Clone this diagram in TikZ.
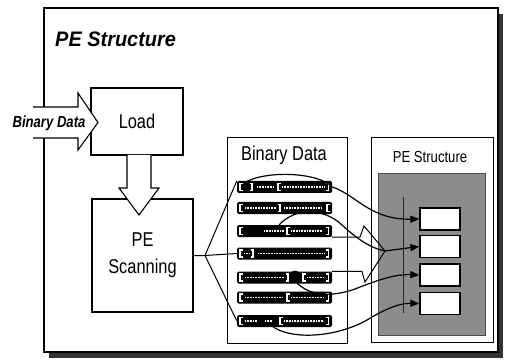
\documentclass[tikz,border=0pt]{standalone}
\usepackage{fontspec}
\setmainfont{Liberation Sans}
\newfontfamily\narrowfont[FakeStretch=0.82]{Liberation Sans}
\newfontfamily\titlefamily[FakeStretch=0.95]{Liberation Sans}
\usetikzlibrary{arrows.meta}
\newcommand{\bdL}[2]{\draw[white,line width=1.3pt] (#1+2.5,#2-3.5) -- (#1,#2-3.5) -- (#1,#2+3.5) -- (#1+2.5,#2+3.5);}
\newcommand{\bdR}[2]{\draw[white,line width=1.3pt] (#1-2.5,#2-3.5) -- (#1,#2-3.5) -- (#1,#2+3.5) -- (#1-2.5,#2+3.5);}
\newcommand{\bdD}[3]{\draw[white,line width=1.1pt,dash pattern=on 1pt off 0.6pt] (#1,#3) -- (#2,#3);}
\begin{document}
\begin{tikzpicture}[x=1pt,y=-1pt,
  box/.style={draw, line width=1.1pt, fill=white, inner sep=0pt},
  panel/.style={draw, line width=0.8pt, inner sep=0pt},
  bdrow/.style={fill=black, rounded corners=1.5pt, minimum width=95pt, minimum height=12pt, inner sep=0pt},
  slot/.style={draw, line width=1.3pt, fill=white, minimum width=40pt, minimum height=22pt, inner sep=0pt},
  flow/.style={line width=1.2pt},
  flowarr/.style={line width=1.2pt, -{Triangle[length=9pt,width=7pt]}},
  fan/.style={line width=1pt},
  bigarrow/.style={line width=1.1pt, fill=white, line join=miter},
  big/.style={font=\narrowfont\fontsize{20}{27}\selectfont}]
\useasboundingbox (0,0) rectangle (507,361);
% frame with shadow
\fill[black!80] (49,14) rectangle (503,358);
\draw[line width=2pt, fill=white] (44,8) rectangle (498,352);
\node[anchor=base west, inner sep=0pt] (title) at (55,47) {\titlefamily\fontsize{21}{21}\selectfont\bfseries\itshape PE Structure};
% Load and input arrow
\node[box, big, minimum width=92pt, minimum height=67pt] (load) at (137,121.5) {Load};
\filldraw[bigarrow] (33,107) -- (78,107) -- (78,93) -- (98,122.5) -- (78,150) -- (78,138) -- (33,138);
\node[anchor=base, inner sep=0pt] (inlabel) at (49,128) {\narrowfont\fontsize{16}{16}\selectfont\bfseries\itshape Binary Data};
% PE Scanning and down arrow
\node[box, big, align=center, minimum width=101pt, minimum height=113pt] (scan) at (142.5,255.5) {PE\\Scanning};
\filldraw[bigarrow] (127,155) -- (127,188) -- (119,188) -- (139,215) -- (159,188) -- (151,188) -- (151,155);
% panels
\node[panel, minimum width=120pt, minimum height=206pt] (bdpanel) at (287,240) {};
\node[big, inner sep=0pt] (bdtitle) at (284,155) {Binary Data};
\node[panel, minimum width=122pt, minimum height=205pt] (pepanel) at (432,239.5) {};
\node[inner sep=0pt, font=\narrowfont\fontsize{16}{16}\selectfont] (petitle) at (430,157) {PE Structure};
\node[draw=black!70, fill=black!45, minimum width=107pt, minimum height=162pt, inner sep=0pt] (grayarea) at (431.5,254) {};
\draw[black!85, line width=0.8pt] (403,197) -- (403,313);
% structure slots
\node[slot] (b1) at (440,219) {};
\node[slot] (b2) at (440,246.5) {};
\node[slot] (b3) at (440,275) {};
\node[slot] (b4) at (440,303.5) {};
% binary data rows
\node[bdrow] (r1) at (284.5,187) {};
\node[bdrow] (r2) at (284.5,208) {};
\node[bdrow] (r3) at (284.5,231) {};
\node[bdrow] (r4) at (284.5,253.5) {};
\node[bdrow] (r5) at (284.5,277.5) {};
\node[bdrow] (r6) at (284.5,297.5) {};
\node[bdrow] (r7) at (284.5,321) {};
% row 1
\bdL{240}{187}\bdR{252}{187}\bdD{257}{274}{187}\bdL{278}{187}\bdD{282}{324}{187}\bdR{328.5}{187}
% row 2
\bdL{240}{208}\bdD{245}{276}{208}\bdR{280}{208}\bdD{284}{322}{208}\bdL{327}{208}
% row 3
\fill (258,231) circle[radius=5.5pt];
\bdL{240}{231}\bdD{264}{284}{231}\bdL{287}{231}\bdD{291}{323}{231}\bdR{328.5}{231}
% row 4
\bdL{240}{253.5}\bdD{244}{250}{253.5}\bdR{253}{253.5}\bdD{258}{324}{253.5}\bdR{328.5}{253.5}
% row 5
\bdL{240}{277.5}\bdD{245}{285}{277.5}\bdR{288}{277.5}\fill (295,276) circle[radius=5.5pt];\bdL{303}{277.5}\bdD{307}{324}{277.5}\bdR{328.5}{277.5}
% row 6
\bdL{240}{297.5}\bdD{245}{283}{297.5}\bdL{287}{297.5}\bdD{291}{324}{297.5}\bdR{328.5}{297.5}
% row 7
\bdL{240}{321}\bdD{245}{257}{321}\bdD{265}{272}{321}\bdL{280}{321}\bdD{284}{324}{321}\bdR{328.5}{321}
% fan from scanning
\coordinate (j) at (205,255.5);
\draw[fan] (scan.east) -- (j) -- (r4.west);
\draw[fan] (j) -- (r1.north west);
\draw[fan] (j) -- (r7.west);
% flows
\coordinate (s1) at (244,183);
\coordinate (s3) at (276,229);
\coordinate (s5) at (293,278);
\coordinate (s7) at (272,326);
\coordinate (m) at (385,251);
\draw[flowarr] (s1) .. controls (265,170) and (318,172) .. (r1.east) .. controls (355,194) and (370,220) .. (b1.west);
\draw[flow] (s3) .. controls (290,208) and (322,206) .. (342,225) .. controls (356,238) and (370,248) .. (m);
\draw[fan] (r3.south east) -- (360,237) -- (364,226) -- (m);
\draw[fan] (r5.north east) -- (362,271.5) -- (365,282) -- (m);
\draw[flowarr] (m) .. controls (400,249) .. (b2.west);
\draw[flowarr] (s5) .. controls (305,296) and (330,298) .. (355,289) .. controls (378,280) and (395,274) .. (b3.west);
\draw[flowarr] (s7) .. controls (290,340) and (335,338) .. (367,320) .. controls (385,309) and (400,303) .. (b4.west);
\end{tikzpicture}
\end{document}
